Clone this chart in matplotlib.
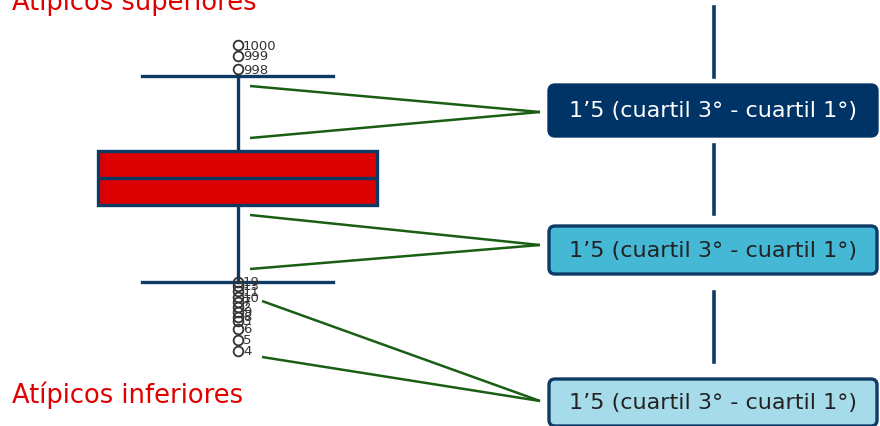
import matplotlib
matplotlib.use("Agg")
import matplotlib.pyplot as plt
from matplotlib.patches import FancyBboxPatch

H = 427
# Box plot statistics (vertical value scale, arbitrary units)
box_stats = dict(med=248, q1=221, q3=275, whislo=144, whishi=350)
upper_out_vals = [381, 370, 357]
upper_out_labels = ["1000", "999", "998"]
lower_out_vals = [144, 140, 135, 129, 124, 119, 114, 109, 105, 97, 86, 75]
lower_out_labels = ["19", "13", "11", "10", "7", "2", "9", "8", "3", "6", "5", "4"]

box_label = "1\u20195 (cuartil 3\u00b0 - cuartil 1\u00b0)"
title_top = "Atípicos superiores"
title_bottom = "Atípicos inferiores"

navy = "#0d3b66"

fig = plt.figure(figsize=(8.8, 4.27), dpi=100)
ax = fig.add_axes([0, 0, 1, 1])
ax.set_xlim(0, 880)
ax.set_ylim(0, H)
ax.axis("off")

stats = [dict(box_stats, fliers=upper_out_vals + lower_out_vals)]
ax.bxp(stats, positions=[237.5], widths=[279], capwidths=[191], patch_artist=True,
       boxprops=dict(facecolor="#dd0000", edgecolor=navy, linewidth=2.4),
       medianprops=dict(color=navy, linewidth=2.4),
       whiskerprops=dict(color=navy, linewidth=2.4),
       capprops=dict(color=navy, linewidth=2.4),
       flierprops=dict(marker="o", markerfacecolor="none", markeredgecolor="#333333",
                       markersize=7, markeredgewidth=1.3),
       manage_ticks=False)

for v, lab in zip(upper_out_vals + lower_out_vals, upper_out_labels + lower_out_labels):
    ax.text(243, v, lab, fontsize=9.5, color="#333333", va="center", ha="left")

# connector lines
green = "#1a5e14"
connectors = [
    ((250, H - 87), (540, H - 113)), ((250, H - 139), (540, H - 113)),
    ((250, H - 216), (540, H - 246)), ((250, H - 270), (540, H - 246)),
    ((262, H - 302), (540, H - 402)), ((262, H - 358), (540, H - 402)),
]
for (x0, y0), (x1, y1) in connectors:
    ax.plot([x0, x1], [y0, y1], color=green, lw=1.8, solid_capstyle="butt")

# vertical separators
for y0, y1 in [(8, 78), (146, 215), (293, 363)]:
    ax.plot([714, 714], [H - y0, H - y1], color=navy, lw=2.6)

# label boxes
boxes = [
    ((549, 86, 328, 51), "#003366", "#003366", "white"),
    ((549, 227, 328, 48), "#45b8d6", navy, "#222222"),
    ((549, 380, 328, 47), "#a6dcea", navy, "#222222"),
]
for (x, y, w, h), fc, ec, tc in boxes:
    p = FancyBboxPatch((x, H - y - h), w, h, boxstyle="round,pad=0,rounding_size=6",
                       facecolor=fc, edgecolor=ec, linewidth=2.4, clip_on=False)
    ax.add_patch(p)
    ax.text(x + w / 2, H - y - h / 2, box_label, color=tc, fontsize=16,
            ha="center", va="center")

ax.text(12, H - 10, title_top, color="#e00000", fontsize=18.5, ha="left", va="baseline")
ax.text(12, H - 395, title_bottom, color="#e00000", fontsize=18.5, ha="left", va="center")

fig.savefig("out.png", dpi=100)
